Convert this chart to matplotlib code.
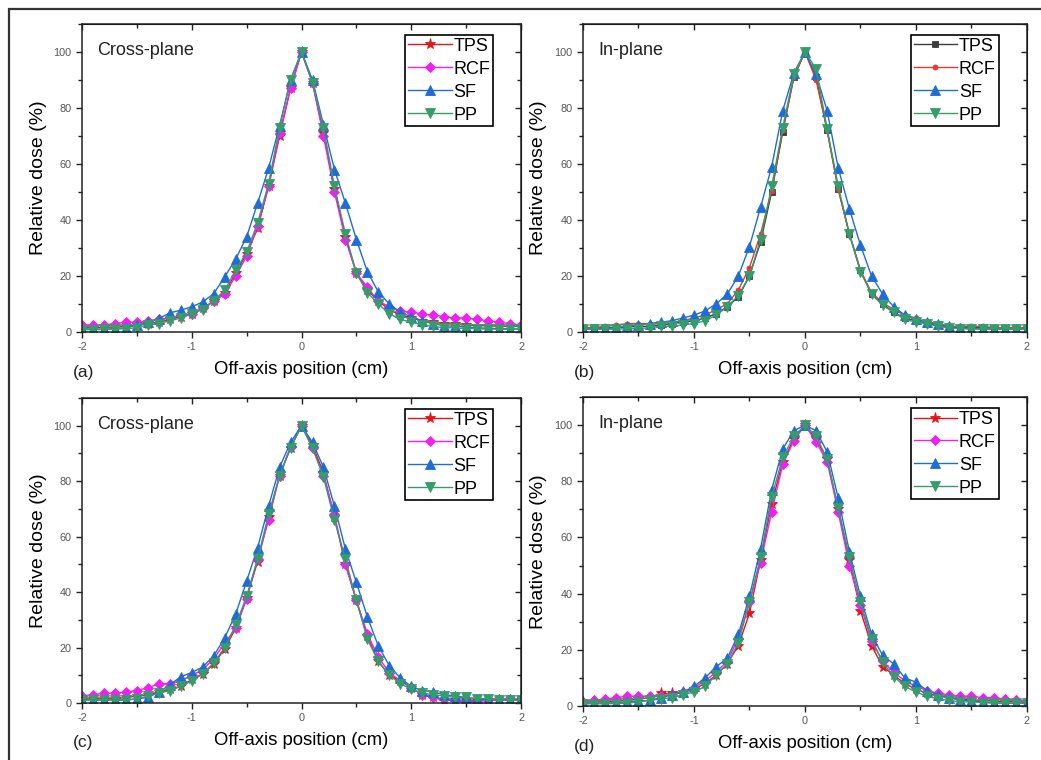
import numpy as np
import matplotlib.pyplot as plt
from matplotlib.patches import Rectangle
from matplotlib.ticker import MultipleLocator

plt.rcParams['font.family'] = ['Liberation Sans', 'DejaVu Sans']
plt.rcParams['axes.unicode_minus'] = False

# Off-axis positions (cm), 0.1 cm steps
x = np.linspace(-2, 2, 41)

# (a) cross-plane profiles
a_tps = [1.5, 1.5, 1.6, 1.8, 2, 2.5, 3, 3.5, 4.5, 5.5, 6.5, 8.5, 11, 14, 21, 28, 37, 52, 70, 87, 100,
         89, 71, 51, 34, 21, 15, 11, 8, 6, 5, 4, 3.5, 3, 2.8, 2.5, 2.3, 2.2, 2, 2, 2]
a_rcf = [2.5, 2.5, 2.5, 3, 3.5, 3.5, 4, 4.5, 5, 6, 6.5, 8.5, 11, 13.5, 20, 27, 38, 52, 71, 87, 100,
         89, 70, 50, 33, 21, 16, 11, 9, 7.5, 7, 6.5, 6, 5.5, 5, 5, 4.5, 4, 3.5, 3, 2.5]
a_sf = [1, 1, 1, 1.2, 1.5, 2.5, 3.5, 4.8, 6.8, 7.8, 9, 10.7, 13.7, 19.7, 26, 34, 46, 58.5, 73.7, 90, 100,
        90, 74, 58, 46, 33, 21.5, 14.3, 10, 7, 5.4, 4, 3, 2.2, 2, 1.8, 1.5, 1.3, 1.2, 1.1, 1]
a_pp = [0.8, 0.8, 0.9, 1, 1.2, 1.5, 2.5, 3, 4, 5, 6.5, 8, 11, 15, 22, 28.5, 39, 53, 73, 90, 100,
        89, 73, 52, 35, 21, 14, 10, 6.5, 4.5, 3.5, 2.5, 2, 1.5, 1.5, 1.2, 1.2, 1, 1, 1, 1]

# (b) in-plane profiles
b_tps = [1.5, 1.5, 1.5, 1.5, 1.8, 2, 2, 2.5, 3, 3.5, 4, 5, 6.5, 9, 12.5, 20, 32, 50, 71.5, 91, 100,
         91, 72, 51, 35, 22, 13.5, 10, 7, 5, 4, 3, 2.5, 1.5, 1.5, 1.5, 1.5, 1.5, 1.5, 1.5, 1.5]
b_rcf = [1.5, 1.5, 2, 2.5, 3, 3, 3, 3, 3.5, 4, 5, 6, 8, 10, 15, 23, 35, 50.5, 72, 91, 100,
         90, 72, 51, 35, 22, 14, 10.5, 8, 6, 5, 3.5, 2.5, 2, 2, 2, 2, 1.5, 1.5, 1.5, 1.5]
b_sf = [1, 1, 1.2, 1.5, 2, 2.5, 3, 3.5, 4, 5, 6, 7.5, 10, 13.5, 20, 30.5, 44.5, 59, 79, 92.5, 100,
        92, 79, 58.5, 44, 31, 20, 13.5, 9, 6, 4.5, 3.5, 3, 2, 1.5, 1.2, 1.2, 1, 1, 1, 1]
b_pp = [1, 1, 1, 1, 1.2, 1.2, 1.5, 2, 2, 2.5, 3, 4, 6, 9, 13, 20, 33, 52, 73, 92, 100,
        94, 72.5, 52, 35, 21.5, 13.5, 9.5, 7, 4.5, 3.5, 3, 2, 1.5, 1.2, 1, 1, 1, 1, 1, 1]

# (c) cross-plane profiles
c_tps = [1.5, 1.5, 1.5, 1.5, 2, 2.5, 3, 4, 5, 6, 8.5, 10.5, 14, 19.5, 27, 38, 51, 67, 82, 92, 100,
         93, 83, 67, 50, 37, 24, 15, 10, 8, 5.5, 3, 2, 1, 1, 1, 1, 1, 1, 1, 1]
c_rcf = [2.5, 3, 3.5, 3.5, 4, 4.5, 5.5, 7, 7, 8, 10, 12, 16, 21.5, 27, 37.5, 52, 66, 82, 92.5, 100,
         92, 82, 68, 50, 37, 25, 16.5, 11, 8, 5.5, 3, 2, 1.5, 1, 0.5, 0.5, 1, 1.5, 1.5, 1]
c_sf = [1, 1, 1, 1, 1.2, 1.5, 2, 4, 6.5, 9.5, 11, 13, 17, 23.5, 32, 44, 56, 71, 85, 94, 100,
        94, 85, 71, 55.5, 43.5, 31, 20.5, 13.5, 9, 6, 4.5, 4, 3, 2.5, 2, 1.5, 1.2, 1, 1, 1]
c_pp = [1, 1, 1, 1, 1, 1.5, 2.5, 3.5, 4.5, 6, 8, 10.5, 14.5, 20, 28, 38.5, 52, 68, 82, 92, 100,
        92, 81.5, 66, 52, 37, 23, 15, 10, 7, 5, 3.5, 3, 2.5, 2, 2, 1.5, 1.5, 1, 1, 1]

# (d) in-plane profiles
d_tps = [1.5, 1.5, 1.5, 1.8, 2, 2.5, 3, 4.5, 4.5, 5, 6, 8, 11, 15, 21.5, 33, 52, 72, 87, 95, 100,
         95, 88, 70, 52, 34, 21.5, 14, 11, 8, 6, 4.5, 3.5, 3, 2.5, 2.2, 2, 1.8, 1.6, 1.5, 1.5]
d_rcf = [1.5, 2, 2.5, 3, 3.5, 3.5, 3.5, 3.5, 4, 5, 6.5, 9, 12, 16, 24, 37, 51, 69, 86, 94.5, 100,
         94, 87, 69, 50, 36, 23, 16, 12, 9, 7, 5.5, 4.5, 4, 3.5, 3.5, 3, 3, 2.5, 2, 1.5]
d_sf = [1, 1, 1, 1.2, 1.5, 1.8, 2, 3, 4, 5, 7, 10, 14, 17, 25.5, 39, 56, 77, 91.5, 98, 100,
        98, 90.5, 74, 55, 39, 25.5, 18, 15, 10, 8.5, 5.5, 4, 3, 2, 1.8, 1.5, 1.2, 1, 1, 1]
d_pp = [0.8, 0.8, 0.8, 0.9, 1, 1.5, 2, 2.5, 3, 4, 5, 7, 11, 15, 22.5, 37, 53, 74.5, 88.5, 96, 100,
        96, 88, 70.5, 53, 37, 24, 15.5, 10.5, 7, 5, 3.5, 2.5, 2, 1.5, 1.5, 1.2, 1, 1, 1, 1]

labels = ['TPS', 'RCF', 'SF', 'PP']
panel_titles = ['Cross-plane', 'In-plane', 'Cross-plane', 'In-plane']
panel_tags = ['(a)', '(b)', '(c)', '(d)']

red = '#e8121a'
magenta = '#f21ef2'
blue = '#1f6cd6'
green = '#359c6c'

# marker style per panel (b uses a different symbol set for TPS/RCF)
styles_std = [(red, '*', 8), (magenta, 'D', 5.2), (blue, '^', 6.6), (green, 'v', 6.6)]
styles_b = [('#3c3c3c', 's', 4), ('#e23a36', 'o', 3.6), (blue, '^', 6.6), (green, 'v', 6.6)]

panels = [
    ([a_tps, a_rcf, a_sf, a_pp], styles_std, [0.0788, 0.5632, 0.4217, 0.4053]),
    ([b_tps, b_rcf, b_sf, b_pp], styles_b, [0.5600, 0.5632, 0.4265, 0.4053]),
    ([c_tps, c_rcf, c_sf, c_pp], styles_std, [0.0788, 0.0750, 0.4217, 0.4013]),
    ([d_tps, d_rcf, d_sf, d_pp], styles_std, [0.5600, 0.0710, 0.4265, 0.4066]),
]

fig = plt.figure(figsize=(10.41, 7.6), dpi=100)

# thin frame around the whole figure
fig.patches.append(Rectangle((9 / 1041, -0.05), 1.2, 1 - 9 / 760 + 0.05, transform=fig.transFigure,
                             fill=False, edgecolor='#333333', linewidth=1.6))


def set_ticks(axis_obj, major, minor):
    axis_obj.set_major_locator(MultipleLocator(major))
    axis_obj.set_minor_locator(MultipleLocator(minor))


for i, (series, styles, rect) in enumerate(panels):
    ax = fig.add_axes(rect)
    for y, (col, mk, ms), lab in zip(series, styles, labels):
        ax.plot(x, y, color=col, marker=mk, markersize=ms, markeredgewidth=0.6,
                linewidth=1.0, label=lab)

    ax.set_xlim(-2, 2)
    ax.set_ylim(0, 110)
    set_ticks(ax.xaxis, 1, 0.5)
    set_ticks(ax.yaxis, 20, 10)
    ax.set_yticks([0, 20, 40, 60, 80, 100])

    for s in ax.spines.values():
        s.set_linewidth(1.1)
        s.set_color('#222222')
    ax.tick_params(which='both', direction='out', labelsize=7.8, labelcolor='#555555',
                   color='#222222', width=1)
    ax.tick_params(which='major', length=4)
    ax.tick_params(which='minor', length=3)

    # inward ticks mirrored on top and right
    top = ax.secondary_xaxis('top')
    set_ticks(top.xaxis, 1, 0.5)
    top.tick_params(which='both', direction='in', labeltop=False, color='#222222', width=1)
    top.tick_params(which='major', length=4)
    top.tick_params(which='minor', length=3)
    right = ax.secondary_yaxis('right')
    set_ticks(right.yaxis, 20, 10)
    right.tick_params(which='both', direction='in', labelright=False, color='#222222', width=1)
    right.tick_params(which='major', length=4)
    right.tick_params(which='minor', length=3)

    ax.set_xlabel('Off-axis position (cm)', fontsize=13.3, labelpad=6)
    ax.set_ylabel('Relative dose (%)', fontsize=14, labelpad=5)
    ax.text(0.035, 0.9, panel_titles[i], transform=ax.transAxes, fontsize=13, color='#222222')
    ax.text(-0.02, -0.145, panel_tags[i], transform=ax.transAxes, fontsize=12.5, color='#222222')

    leg = ax.legend(loc='upper right', bbox_to_anchor=(0.936, 0.964), fontsize=13,
                    frameon=True, fancybox=False, handlelength=2.4, handletextpad=0.1,
                    borderpad=0.15, labelspacing=0.33, borderaxespad=0)
    leg.get_frame().set_edgecolor('black')
    leg.get_frame().set_linewidth(1.2)
    leg.get_frame().set_alpha(1)

plt.savefig('out.png', dpi=100)
